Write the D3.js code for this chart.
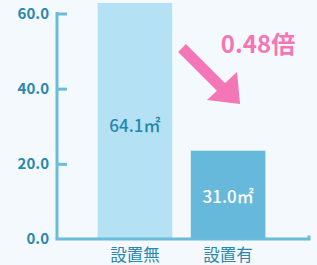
<!DOCTYPE html>
<html>
<head>
<meta charset="utf-8">
<script src="https://cdn.jsdelivr.net/npm/d3@7"></script>
<style>
  html, body { margin: 0; padding: 0; background: #f3f9fc; }
  svg { display: block; }
  text { font-family: "Noto Sans CJK JP", "Noto Sans", sans-serif; }
</style>
</head>
<body>
<div id="mainContainer"><svg></svg></div>
<script>
const SVG_WIDTH = 317;
const SVG_HEIGHT = 265;

// data
const categories = ["設置無", "設置有"];
const valueLabels = ["64.1㎡", "31.0㎡"];
// bar heights as drawn in the source picture (it is not drawn to scale)
const barValues = [62.8, 23.5];
const tickValues = [0, 20, 40, 60];
const ratioLabel = "0.48倍";

const AXIS_COLOR = "#6bbcdb";
const TEXT_COLOR = "#2a87ae";
const BAR_COLORS = ["#b4e1f3", "#66b9da"];
const LABEL_COLORS = ["#2387ae", "#ffffff"];
const PINK = "#f576b6";

let svg = d3.select("#mainContainer").select("svg")
    .attr("width", SVG_WIDTH)
    .attr("height", SVG_HEIGHT);

let x = d3.scaleBand()
    .domain(categories)
    .range([79, 284])
    .paddingInner(0.2)
    .paddingOuter(0.2);

let y = d3.scaleLinear()
    .domain([0, 60])
    .range([239, 13.5]);

// bars
svg.selectAll("rect.bar")
    .data(barValues)
    .enter()
    .append("rect")
    .attr("class", "bar")
    .attr("x", (d, i) => x(categories[i]))
    .attr("y", d => y(d))
    .attr("width", x.bandwidth())
    .attr("height", d => y(0) - y(d))
    .attr("fill", (d, i) => BAR_COLORS[i]);

// value labels inside bars
svg.selectAll("text.val")
    .data(valueLabels)
    .enter()
    .append("text")
    .attr("class", "val")
    .attr("x", (d, i) => x(categories[i]) + x.bandwidth() / 2)
    .attr("y", (d, i) => i === 0 ? y(30.5) : y(barValues[i] / 2) + 1)
    .attr("text-anchor", "middle")
    .attr("dominant-baseline", "central")
    .attr("font-size", 17)
    .attr("font-weight", 500)
    .attr("fill", (d, i) => LABEL_COLORS[i])
    .text(d => d);

// y axis
let yAxis = d3.axisLeft(y)
    .tickValues(tickValues)
    .tickFormat(d3.format(".1f"))
    .tickSize(0)
    .tickPadding(8);

let gy = svg.append("g")
    .attr("transform", "translate(57,0)")
    .call(yAxis);
gy.select(".domain")
    .attr("stroke", AXIS_COLOR)
    .attr("stroke-width", 3)
    .attr("d", `M0,${y(60) - 1.5}V${y(0)}`);
gy.selectAll(".tick text")
    .attr("fill", TEXT_COLOR)
    .attr("font-size", 15)
    .attr("font-weight", 600)
    .attr("font-family", "'Noto Sans', sans-serif");
gy.selectAll(".tick").filter(d => d > 0)
    .append("line")
    .attr("x1", 0)
    .attr("x2", 10)
    .attr("stroke", AXIS_COLOR)
    .attr("stroke-width", 3);

// x axis baseline
svg.append("path")
    .attr("d", `M55.5,${y(0)}H310.5M309,${y(0)}V${y(0) - 3.5}`)
    .attr("stroke", AXIS_COLOR)
    .attr("stroke-width", 3)
    .attr("fill", "none");

// category labels
svg.selectAll("text.cat")
    .data(categories)
    .enter()
    .append("text")
    .attr("class", "cat")
    .attr("x", d => x(d) + x.bandwidth() / 2)
    .attr("y", 254)
    .attr("text-anchor", "middle")
    .attr("dominant-baseline", "central")
    .attr("font-size", 16.5)
    .attr("fill", TEXT_COLOR)
    .text(d => d);

// pink arrow + ratio label
svg.append("line")
    .attr("x1", 182).attr("y1", 48)
    .attr("x2", 222).attr("y2", 88)
    .attr("stroke", PINK)
    .attr("stroke-width", 11);
svg.append("path")
    .attr("d", "M240,104L207,100L237,72Z")
    .attr("fill", PINK);
svg.append("text")
    .attr("x", 258)
    .attr("y", 42)
    .attr("text-anchor", "middle")
    .attr("dominant-baseline", "central")
    .attr("font-size", 24)
    .attr("font-weight", 600)
    .attr("fill", PINK)
    .text(ratioLabel);
</script>
</body>
</html>
